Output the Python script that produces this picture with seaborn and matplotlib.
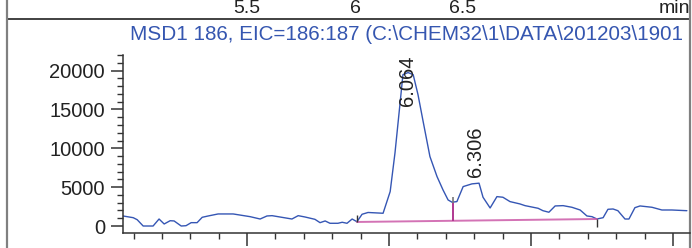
import matplotlib

matplotlib.use("Agg")

import matplotlib.pyplot as plt
import pandas as pd
import seaborn as sns
from matplotlib.ticker import MultipleLocator

# EIC trace (time in min, abundance)
time_min = [
    5.063, 5.099, 5.113, 5.134, 5.169, 5.190, 5.208, 5.229, 5.243, 5.268,
    5.285, 5.303, 5.324, 5.342, 5.363, 5.398, 5.451, 5.511, 5.546, 5.570,
    5.588, 5.658, 5.680, 5.704, 5.739, 5.757, 5.775, 5.792, 5.820, 5.835,
    5.852, 5.870, 5.887, 5.905, 5.926, 5.979, 6.004, 6.021, 6.039, 6.049,
    6.067, 6.085, 6.102, 6.120, 6.144, 6.169, 6.190, 6.208, 6.222, 6.239,
    6.261, 6.292, 6.317, 6.331, 6.356, 6.380, 6.401, 6.426, 6.461, 6.479,
    6.525, 6.542, 6.563, 6.585, 6.613, 6.644, 6.673, 6.697, 6.715, 6.732,
    6.754, 6.771, 6.789, 6.806, 6.831, 6.845, 6.866, 6.884, 6.926, 6.961,
    6.996, 7.049,
]
abundance = [
    1290, 1070, 810, 0, 0, 900, 260, 680, 650, 0,
    40, 430, 430, 1120, 1290, 1550, 1550, 1200, 900, 1290,
    1330, 900, 1330, 1160, 860, 430, 650, 350, 350, 480,
    350, 900, 550, 1510, 1740, 1640, 4430, 9420, 15870, 19480,
    19740, 19480, 16900, 13460, 8940, 6360, 4650, 3350, 3060, 3140,
    5070, 5420, 5510, 3700, 2320, 3780, 3700, 3140, 2840, 2620,
    2280, 1970, 1770, 2580, 2620, 2410, 2060, 1290, 1200, 900,
    1070, 2150, 2190, 1970, 900, 900, 2360, 2580, 2410, 2060,
    2060, 1970,
]

peak_rt = [6.064, 6.306]
peak_label_y = [15400, 6300]

baseline_t = [5.887, 6.732]
baseline_y = [520, 900]
split_t = 6.225
split_y = [670, 2970, 3780]

top_ticks = [5.5, 6.0, 6.5]
top_tick_labels = ["5.5", "6", "6.5"]

title = r"MSD1 186, EIC=186:187 (C:\CHEM32\1\DATA\201203\1901"

trace_color = "#3556b4"
base_color = "#cc5aa8"
text_color = "#222222"

sns.set_theme(style="ticks")
plt.rcParams["font.family"] = ["Liberation Sans", "DejaVu Sans"]

W, H = 692, 248
fig = plt.figure(figsize=(W / 100, H / 100), dpi=100)

# outer frame: left/right borders and the separator under the strip above
frame = fig.add_axes([7 / W, 0, 683 / W, 1])
frame.set_xlim(0, 1)
frame.set_ylim(0, 1)
frame.patch.set_alpha(0)
frame.set_xticks([])
frame.set_yticks([])
for side in ["top", "bottom"]:
    frame.spines[side].set_visible(False)
for side in ["left", "right"]:
    frame.spines[side].set_color("#808080")
    frame.spines[side].set_linewidth(1.6)
frame.axhline(1 - 19 / H, color="#333333", lw=1.3)

# strip of the panel above: only its x tick labels show
strip = fig.add_axes([7 / W, 1 - 19 / H, 683 / W, 19 / H])
strip.set_xlim(4.389, 7.551)
strip.set_ylim(0, 1)
strip.axis("off")
for t, lab in zip(top_ticks, top_tick_labels):
    strip.text(t, 0.56, lab, ha="center", va="center", fontsize=14, color=text_color)
strip.text(1.0, 0.56, "min", ha="right", va="center", fontsize=14,
           color=text_color, transform=strip.transAxes)

# main chromatogram panel
ax = fig.add_axes([123 / W, 15 / H, (690 - 123) / W, (233 - 55) / H])
df = pd.DataFrame({"time": time_min, "abundance": abundance})
sns.lineplot(data=df, x="time", y="abundance", ax=ax, color=trace_color,
             lw=1.0, estimator=None, sort=False)

ax.plot(baseline_t, baseline_y, color=base_color, lw=1.4, alpha=0.85)
ax.vlines(split_t, split_y[0], split_y[1], color="#b03890", lw=1.4)
ax.vlines(split_t, split_y[1], split_y[2], color="#777777", lw=1.2)
ax.vlines(baseline_t[0], baseline_y[0], baseline_y[0] + 900, color="#333333", lw=1.0)
ax.vlines(baseline_t[1], baseline_y[1] - 1030, baseline_y[1], color="#333333", lw=1.0)

for rt, ly in zip(peak_rt, peak_label_y):
    ax.text(rt, ly, f"{rt:.3f}", rotation=90, ha="center", va="bottom",
            fontsize=14.5, color=text_color)

ax.set_xlim(5.063, 7.060)
ax.set_ylim(-900, 22000)
ax.set_yticks([0, 5000, 10000, 15000, 20000])
ax.yaxis.set_minor_locator(MultipleLocator(1000))
ax.xaxis.set_major_locator(MultipleLocator(0.5))
ax.xaxis.set_minor_locator(MultipleLocator(0.1))
ax.tick_params(axis="x", which="major", length=9, width=1.1, color="#333333",
               labelbottom=False)
ax.tick_params(axis="x", which="minor", length=4.5, width=1.0, color="#333333")
ax.tick_params(axis="y", which="major", length=9, width=1.1, color="#333333",
               pad=4, labelsize=14.5, labelcolor=text_color)
ax.tick_params(axis="y", which="minor", length=4.5, width=1.0, color="#333333")
ax.set_xlabel("")
ax.set_ylabel("")
ax.patch.set_alpha(0)
for side in ["top", "right"]:
    ax.spines[side].set_visible(False)
for side in ["left", "bottom"]:
    ax.spines[side].set_color("#333333")
    ax.spines[side].set_linewidth(1.1)

fig.text(130 / W, 1 - 34 / H, title, ha="left", va="center", fontsize=14.9,
         color="#3556b0")

fig.savefig("out.png", dpi=100)
